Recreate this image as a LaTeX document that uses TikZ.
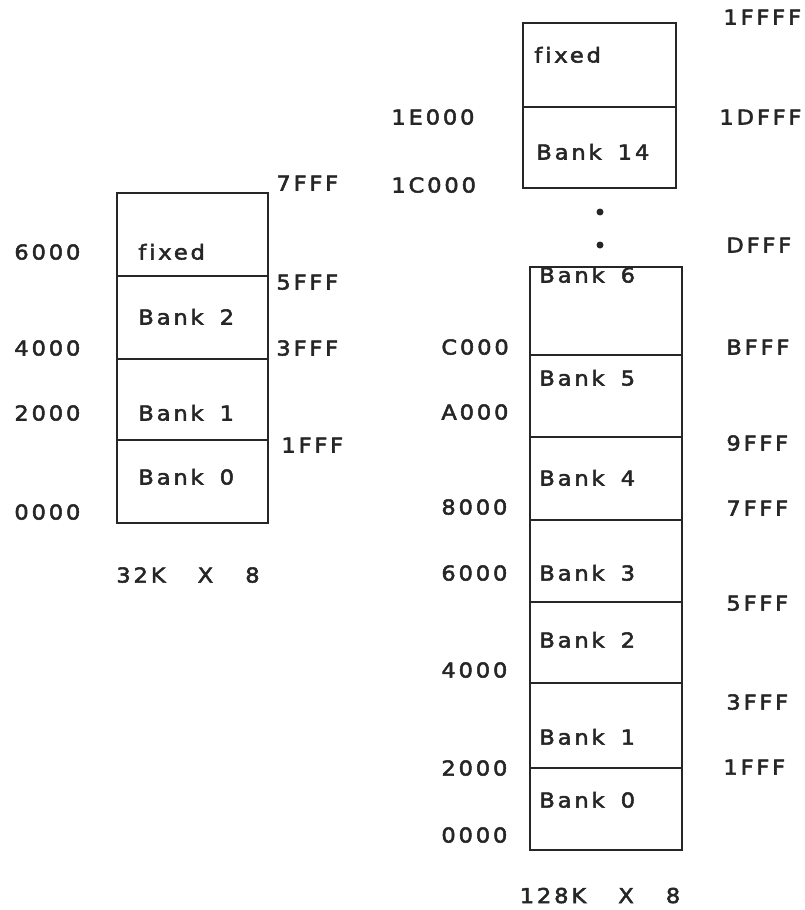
\documentclass[tikz,border=0pt]{standalone}
\usepackage{fontspec}
\setmainfont{DejaVu Sans}[LetterSpace=14,WordSpace=1.6,FakeStretch=1.1,FakeBold=2.5,Ligatures=NoCommon]
\usetikzlibrary{positioning}

\begin{document}
\begin{tikzpicture}[x=1pt,y=-1pt,line width=2.8pt,
  seg/.style={draw,rectangle,inner sep=0pt,draw=black!85},
  lbl/.style={anchor=base west,inner sep=0pt,text=black!85,font=\fontsize{20.5}{24}\selectfont},
  caption/.style={lbl,anchor=base}]
\useasboundingbox (0,0) rectangle (804,910);

% 32K x 8
\foreach \c/\h [count=\i] in {481.5/83, 399.5/81, 317.5/83, 234.5/83}
  \node[seg,minimum width=151,minimum height=\h] (L\i) at (192.5,\c) {};
\foreach \x/\y/\t [count=\i] in {137/259.5/fixed, 137/324.5/Bank 2, 137/420.5/Bank 1, 137/484.5/Bank 0,
    13/259.5/6000, 13/355.5/4000, 13/420.5/2000, 13/519.5/0000,
    275/190.5/7FFF, 275/289.5/5FFF, 275/355.5/3FFF, 280/452.5/1FFF}
  \node[lbl] (lt\i) at (\x,\y) {\t};
\node[caption] (Lcap) at (188,582.5) {32K\ \ X\ \ 8};

% 128K x 8, upper part
\node[seg,minimum width=153,minimum height=84] (R15) at (599.5,65) {};
\node[seg,minimum width=153,minimum height=81] (R14) at (599.5,147.5) {};
\fill[black!85] (600,212) circle (3.5pt) coordinate (dot1);
\fill[black!85] (600,245) circle (3.5pt) coordinate (dot2);

% 128K x 8, lower part
\foreach \c/\h [count=\i from 0] in {809/82, 725.5/85, 642.5/81, 561/82, 478.5/83, 396/82, 311/88}
  \node[seg,minimum width=152,minimum height=\h] (R\i) at (606,\c) {};
\foreach \x/\y/\t [count=\i] in {533/62.5/fixed, 535/159.5/Bank 14,
    390/124.5/1E000, 390/192.5/1C000, 722/24.5/1FFFF, 718/124.5/1DFFF, 725/252.5/DFFF,
    538/282.5/Bank 6, 538/385.5/Bank 5, 538/485.5/Bank 4, 538/580.5/Bank 3,
    538/647.5/Bank 2, 538/744.5/Bank 1, 538/807.5/Bank 0,
    440/354.5/C000, 440/419.5/A000, 440/514.5/8000, 440/580.5/6000,
    440/677.5/4000, 440/775.5/2000, 440/842.5/0000,
    725/354.5/BFFF, 725/450.5/9FFF, 725/515.5/7FFF, 725/610.5/5FFF,
    725/709.5/3FFF, 722/774.5/1FFF}
  \node[lbl] (rt\i) at (\x,\y) {\t};
\node[caption] (Rcap) at (600,903) {128K\ \ X\ \ 8};
\end{tikzpicture}
\end{document}
